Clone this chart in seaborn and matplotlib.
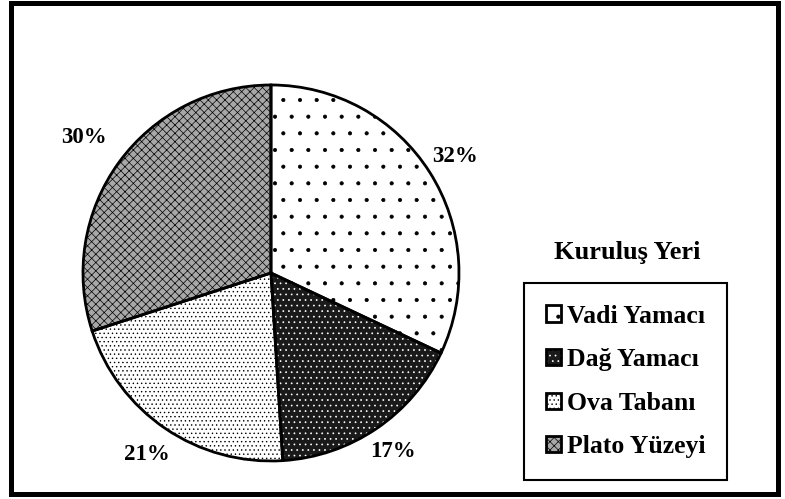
import numpy as np
import matplotlib
matplotlib.use('Agg')
import matplotlib.pyplot as plt
import seaborn as sns
from matplotlib.patches import Rectangle

# Veriler
kategoriler = ['Vadi Yamacı', 'Dağ Yamacı', 'Ova Tabanı', 'Plato Yüzeyi']
oranlar = [32, 17, 21, 30]
baslik = 'Kuruluş Yeri'

# Desenler
dolgu = ['white', '#1a1a1a', 'white', '#a8a8a8']
desen = ['.', '...', '....', 'xxxx']
desen_renk = ['black', 'white', 'black', 'black']
etiket_uzaklik = [1.16, 1.15, 1.17, 1.23]

sns.set_theme(style='white')
plt.rcParams['font.family'] = ['Liberation Serif', 'DejaVu Serif']
plt.rcParams['font.weight'] = 'bold'
plt.rcParams['text.color'] = 'black'
plt.rcParams['hatch.linewidth'] = 0.5

fig = plt.figure(figsize=(7.85, 4.99), dpi=100)
ax = fig.add_axes([0.1057, 0.0762, 0.479, 0.7535])

# dolgu + desen
dilimler, _ = ax.pie(oranlar, startangle=90, counterclock=False, colors=dolgu,
                     wedgeprops=dict(linewidth=0))
for d, h, c in zip(dilimler, desen, desen_renk):
    d.set_edgecolor(c)
    d.set_hatch(h)

# kenar çizgileri ve yüzdeler
kenarlar, _, yuzdeler = ax.pie(oranlar, startangle=90, counterclock=False,
                               autopct='%1.0f%%', pctdistance=1.17,
                               wedgeprops=dict(fill=False, edgecolor='black', linewidth=2))
for t, k, r in zip(yuzdeler, kenarlar, etiket_uzaklik):
    aci = np.deg2rad((k.theta1 + k.theta2) / 2)
    t.set_position((r * np.cos(aci), r * np.sin(aci)))
    t.set_fontsize(16.5)
    t.set_fontweight('bold')
    t.set_color('black')

ax.set_xlim(-1, 1)
ax.set_ylim(-1, 1)

# Lejant
tutamaclar = [(d, k) for d, k in zip(dilimler, kenarlar)]
leg = fig.legend(tutamaclar, kategoriler, loc='center', bbox_to_anchor=(0.797, 0.2355),
                 prop=dict(size=18.5, weight='bold'), fancybox=False, framealpha=1,
                 edgecolor='black', handlelength=0.6, handleheight=0.6,
                 handletextpad=0.2, labelspacing=0.8, borderpad=0.85)
leg.get_frame().set_linewidth(1.5)

fig.text(0.799, 0.493, baslik, ha='center', va='center', fontsize=19, fontweight='bold')

# dış çerçeve
fig.add_artist(Rectangle((0.0134, 0.010), 0.9776, 0.984, transform=fig.transFigure,
                         fill=False, lw=3.6, edgecolor='black'))

fig.savefig('out.png', dpi=100)
